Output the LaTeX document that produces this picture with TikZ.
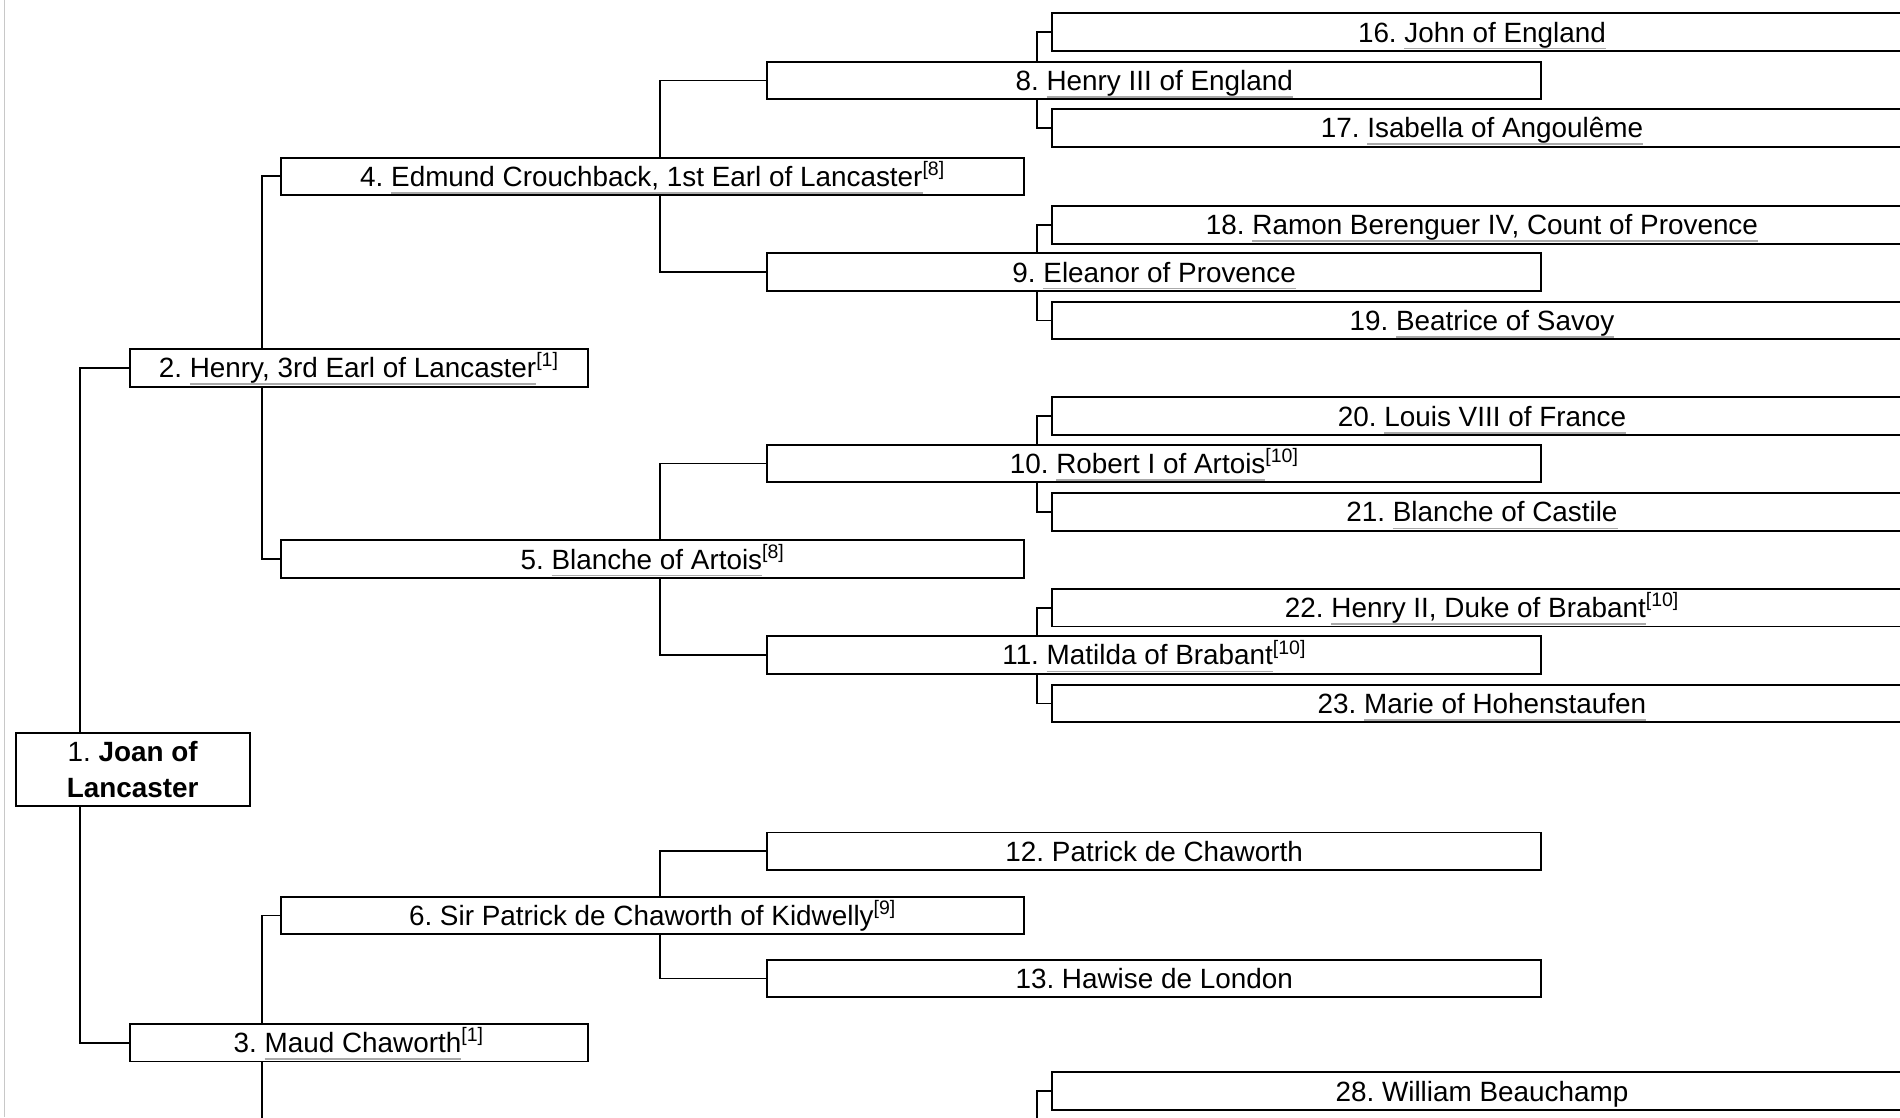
\documentclass[tikz,border=0pt]{standalone}
\usepackage{fontspec}
\setmainfont{Liberation Sans}
\frenchspacing
\definecolor{ulgray}{RGB}{170,170,170}
\definecolor{edgegray}{RGB}{200,200,200}
\newcommand\lk[1]{\setbox0\hbox{#1}\rlap{\color{ulgray}\rule[-6pt]{\wd0}{1.4pt}}\box0}
\newcommand\rf[1]{\textsuperscript{[#1]}}
\tikzset{
  pbox/.style={draw=black, line width=1.6pt, fill=white, inner sep=0pt,
    minimum height=31pt, text height=16.5pt, text depth=0pt,
    font=\fontsize{23pt}{30pt}\selectfont\frenchspacing},
  g2/.style={pbox, minimum width=378pt},
  g3/.style={pbox, minimum width=613pt},
  g4/.style={pbox, minimum width=639pt},
  g5/.style={pbox, minimum width=710pt},
  conn/.style={draw=black, line width=1.5pt}
}
\begin{document}
\begin{tikzpicture}[x=1pt,y=-1pt]
\useasboundingbox (0,0) rectangle (1568,922);
\clip (0,0) rectangle (1568,922);
\fill[white] (0,0) rectangle (1568,922);
\draw[edgegray, line width=1.2pt] (3.5,0) -- (3.5,922);

% generation 1
\node[pbox, minimum width=193pt, minimum height=60pt, text height=, text depth=, align=center] (n1) at (109.5,635) {1. \textbf{Joan of}\\\textbf{Lancaster}};
% generation 2
\node[g2] (n2) at (296,303.5) {2. \lk{Henry, 3rd Earl of Lancaster}\rf{1}};
\node[g2] (n3) at (296,860.5) {3. \lk{Maud Chaworth}\rf{1}};
% generation 3
\node[g3] (n4) at (538.5,145.5) {4. \lk{Edmund Crouchback, 1st Earl of Lancaster}\rf{8}};
\node[g3] (n5) at (538.5,461.5) {5. \lk{Blanche of Artois}\rf{8}};
\node[g3] (n6) at (538.5,755.5) {6. Sir Patrick de Chaworth of Kidwelly\rf{9}};
% generation 4
\node[g4] (n8) at (952.5,66.5) {8. \lk{Henry III of England}};
\node[g4] (n9) at (952.5,224.5) {9. \lk{Eleanor of Provence}};
\node[g4] (n10) at (952.5,382.5) {10. \lk{Robert I of Artois}\rf{10}};
\node[g4] (n11) at (952.5,540.5) {11. \lk{Matilda of Brabant}\rf{10}};
\node[g4] (n12) at (952.5,702.5) {12. Patrick de Chaworth};
\node[g4] (n13) at (952.5,807.5) {13. Hawise de London};
% generation 5
\node[g5] (n16) at (1223,26.5) {16. \lk{John of England}};
\node[g5] (n17) at (1223,105.5) {17. \lk{Isabella of Angoulême}};
\node[g5] (n18) at (1223,185.5) {18. \lk{Ramon Berenguer IV, Count of Provence}};
\node[g5] (n19) at (1223,264.5) {19. \lk{Beatrice of Savoy}};
\node[g5] (n20) at (1223,343.5) {20. \lk{Louis VIII of France}};
\node[g5] (n21) at (1223,422.5) {21. \lk{Blanche of Castile}};
\node[g5] (n22) at (1223,501.5) {22. \lk{Henry II, Duke of Brabant}\rf{10}};
\node[g5] (n23) at (1223,580.5) {23. \lk{Marie of Hohenstaufen}};
\node[g5] (n28) at (1223,900.5) {28. William Beauchamp};

\coordinate (c7) at (216,930);
\coordinate (c14) at (856,930);

% connectors
\draw[conn] ([xshift=-43.5pt]n1.north) |- (n2.west);
\draw[conn] ([xshift=-43.5pt]n1.south) |- (n3.west);
\draw[conn] ([xshift=-80pt]n2.north) |- (n4.west);
\draw[conn] ([xshift=-80pt]n2.south) |- (n5.west);
\draw[conn] ([xshift=-80pt]n3.north) |- (n6.west);
\draw[conn] ([xshift=-80pt]n3.south) -- (c7);
\draw[conn] ([xshift=6.5pt]n4.north) |- (n8.west);
\draw[conn] ([xshift=6.5pt]n4.south) |- (n9.west);
\draw[conn] ([xshift=6.5pt]n5.north) |- (n10.west);
\draw[conn] ([xshift=6.5pt]n5.south) |- (n11.west);
\draw[conn] ([xshift=6.5pt]n6.north) |- (n12.west);
\draw[conn] ([xshift=6.5pt]n6.south) |- (n13.west);
\draw[conn] ([xshift=-96.5pt]n8.north) |- (n16.west);
\draw[conn] ([xshift=-96.5pt]n8.south) |- (n17.west);
\draw[conn] ([xshift=-96.5pt]n9.north) |- (n18.west);
\draw[conn] ([xshift=-96.5pt]n9.south) |- (n19.west);
\draw[conn] ([xshift=-96.5pt]n10.north) |- (n20.west);
\draw[conn] ([xshift=-96.5pt]n10.south) |- (n21.west);
\draw[conn] ([xshift=-96.5pt]n11.north) |- (n22.west);
\draw[conn] ([xshift=-96.5pt]n11.south) |- (n23.west);
\draw[conn] (c14) |- (n28.west);
\end{tikzpicture}
\end{document}
